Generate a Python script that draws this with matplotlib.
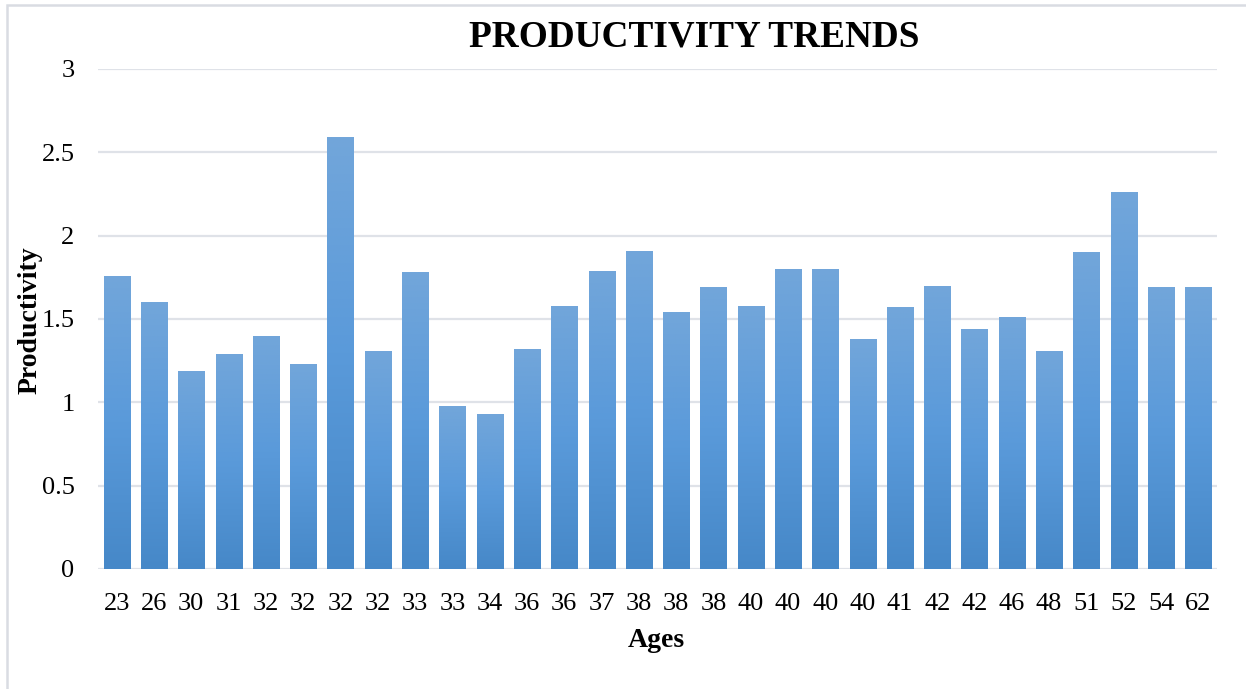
import matplotlib.pyplot as plt
import numpy as np
from matplotlib.colors import LinearSegmentedColormap
from matplotlib.patches import Rectangle

plt.rcParams['font.family'] = ['Liberation Serif', 'DejaVu Serif']

ages = ['23', '26', '30', '31', '32', '32', '32', '32', '33', '33',
        '34', '36', '36', '37', '38', '38', '38', '40', '40', '40',
        '40', '41', '42', '42', '46', '48', '51', '52', '54', '62']
productivity = [1.76, 1.60, 1.19, 1.29, 1.40, 1.23, 2.59, 1.31, 1.78, 0.98,
                0.93, 1.32, 1.58, 1.79, 1.91, 1.54, 1.69, 1.58, 1.80, 1.80,
                1.38, 1.57, 1.70, 1.44, 1.51, 1.31, 1.90, 2.26, 1.69, 1.69]
yticks = [0, 0.5, 1, 1.5, 2, 2.5, 3]

# light at the top, brighter in the middle, darker at the base
grad = LinearSegmentedColormap.from_list(
    'bar', ['#4688c8', '#5a9ada', '#72a6da'])

fig = plt.figure(figsize=(12.46, 6.89), dpi=100)
ax = fig.add_axes([0.0787, 0.1742, 0.898, 0.7257])

x = np.arange(len(ages))
bars = ax.bar(x, productivity, width=0.70, facecolor='none',
              edgecolor='none', zorder=3)
g = np.linspace(0, 1, 256).reshape(-1, 1)
for b in bars:
    x0, y0 = b.get_x(), b.get_y()
    w, h = b.get_width(), b.get_height()
    im = ax.imshow(g, cmap=grad, origin='lower', aspect='auto',
                   extent=(x0, x0 + w, y0, y0 + h), zorder=2)
    im.set_clip_path(b)

ax.set_xlim(-0.5, len(ages) - 0.5)
ax.set_ylim(0, 3)
ax.set_xticks(x)
ax.set_xticklabels(ages)
ax.set_yticks(yticks)
ax.set_yticklabels(['0', '0.5', '1', '1.5', '2', '2.5', '3'])
ax.tick_params(length=0, labelsize=19, colors='black')
ax.tick_params(axis='x', pad=17)
ax.tick_params(axis='y', pad=17)
ax.yaxis.grid(True, color='#dfe2e8', linewidth=1.6, zorder=0)
ax.set_axisbelow(True)
for s in ax.spines.values():
    s.set_visible(False)

fig.text(0.527, 0.071, 'Ages', ha='center', va='center',
         fontsize=20, fontweight='bold')
fig.text(0.024, 0.535, 'Productivity', ha='center', va='center',
         rotation=90, fontsize=20, fontweight='bold')
fig.text(0.557, 0.947, 'PRODUCTIVITY TRENDS', ha='center', va='center',
         fontsize=26.8, fontweight='bold')

# chart border
fig.add_artist(Rectangle((7 / 1246, -0.05), 1.2, 1 - 5 / 689 + 0.05,
                         transform=fig.transFigure, fill=False,
                         edgecolor='#d9dce2', linewidth=1.8))

fig.savefig('out.png', dpi=100)
